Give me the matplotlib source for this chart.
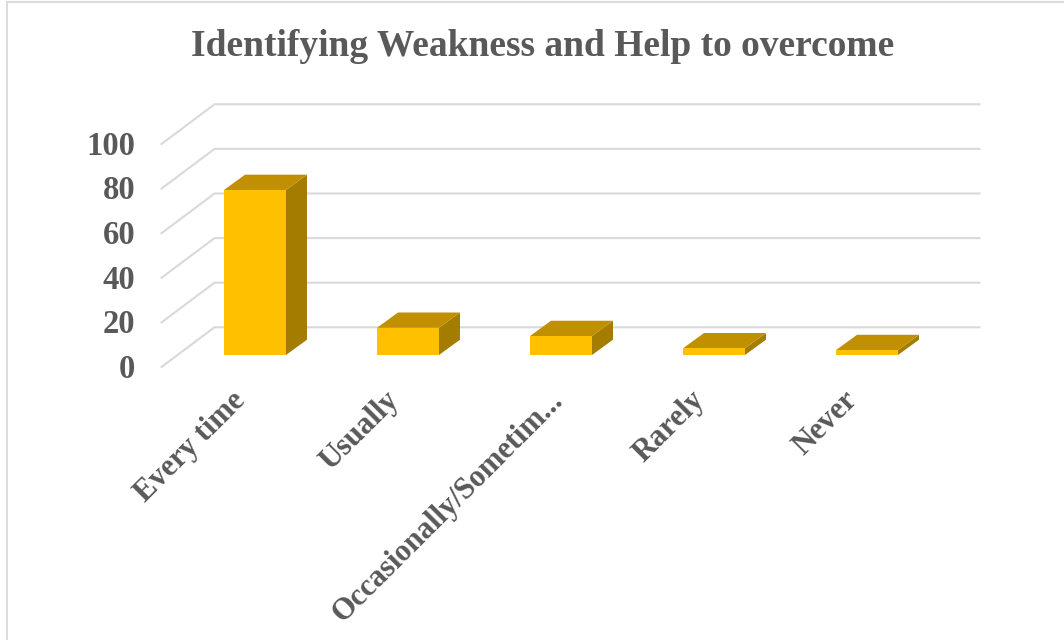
import matplotlib
matplotlib.use('Agg')
import matplotlib.pyplot as plt

categories = ['Every time', 'Usually', 'Occasionally/Sometim...', 'Rarely', 'Never']
values = [74, 12.2, 8.5, 3, 2.2]
y_ticks = [0, 20, 40, 60, 80, 100]
title = 'Identifying Weakness and Help to overcome'

plt.rcParams['font.family'] = ['Liberation Serif', 'DejaVu Serif']

W, H = 1064, 640
PX_X = 153.0    # pixels per category
PX_Y = 2.23     # pixels per value unit
X0, Y0 = 255.0, 355.0   # pixel position of first bar centre / bar base

fig = plt.figure(figsize=(W / 100, H / 100), dpi=100)
ax = fig.add_axes([0, 0, 1, 1])
ax.set_xlim(-X0 / PX_X, (W - X0) / PX_X)
ax.set_ylim(-(H - Y0) / PX_Y, Y0 / PX_Y)
ax.axis('off')

# offsets of the fake 3d box, in data units
bar_w = 0.405
bar_dx, bar_dy = 21 / PX_X, 15.3 / PX_Y
wall_x0 = -40.5 / PX_X
wall_x1 = 724.5 / PX_X
side_x0 = -93.5 / PX_X
wall_dy = 27.7 / PX_Y
front_dy = -12 / PX_Y

grid_col = '#d9d9d9'
text_col = '#595959'

# chart frame, only left and top show up in the picture
fig.add_artist(plt.Line2D([7 / W, 7 / W], [0, 1 - 2 / H], color='#dcdcdc', lw=1.5))
fig.add_artist(plt.Line2D([7 / W, 1], [1 - 2 / H, 1 - 2 / H], color='#dcdcdc', lw=1.5))

for t in y_ticks:
    ax.plot([side_x0, wall_x0, wall_x1], [t + front_dy, t + wall_dy, t + wall_dy],
            color=grid_col, lw=1.5, zorder=1, solid_joinstyle='miter')
    ax.text(-119.5 / PX_X, t + front_dy - 1, str(t), ha='right', va='center',
            fontsize=23.5, fontweight='bold', color=text_col)

for i, (name, v) in enumerate(zip(categories, values)):
    l, r = i - bar_w / 2, i + bar_w / 2
    ax.fill([r, r + bar_dx, r + bar_dx, r], [0, bar_dy, v + bar_dy, v], color='#a37c00', lw=0, zorder=3)
    ax.fill([l, l + bar_dx, r + bar_dx, r], [v, v + bar_dy, v + bar_dy, v], color='#c09000', lw=0, zorder=3)
    ax.fill([l, r, r, l], [0, 0, v, v], color='#ffc000', lw=0, zorder=4)
    # the long label sits a bit further right
    shift = -24 if i != 2 else -13
    ax.text(i + shift / PX_X, -13.8, name, rotation=45, rotation_mode='anchor', ha='right', va='top',
            fontsize=22, fontweight='bold', color=text_col)

fig.text(543 / W, 1 - 47 / H, title, ha='center', va='center',
         fontsize=27, fontweight='bold', color=text_col)

fig.savefig('out.png', dpi=100)
